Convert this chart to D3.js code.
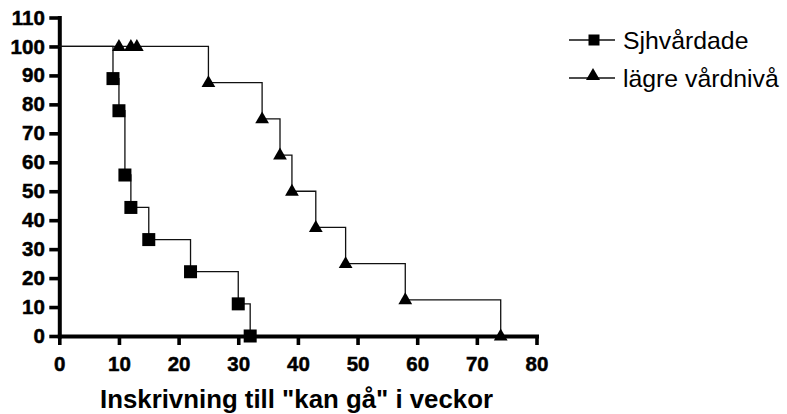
<!DOCTYPE html>
<html>
<head>
<meta charset="utf-8">
<script src="https://cdn.jsdelivr.net/npm/d3@7"></script>
<style>
  html, body { margin: 0; padding: 0; background: #fff; }
  svg { display: block; }
</style>
</head>
<body>
<script>
// ---- data ----
const xTicks = [0, 10, 20, 30, 40, 50, 60, 70, 80];
const yTicks = [0, 10, 20, 30, 40, 50, 60, 70, 80, 90, 100, 110];
const seriesNames = ["Sjhvårdade", "lägre vårdnivå"];
const sjTimes = [0, 9, 10, 11, 12, 15, 22, 30, 32];
const sjValues = [100, 88.9, 77.8, 55.6, 44.4, 33.3, 22.2, 11.1, 0];
const lvTimes = [0, 25, 34, 37, 39, 43, 48, 58, 74];
const lvValues = [100, 87.5, 75, 62.5, 50, 37.5, 25, 12.5, 0];
const lvCensoredTimes = [10, 12, 13];
const lvCensoredValues = [100, 100, 100];
const xTitle = 'Inskrivning till "kan gå" i veckor';

const W = 787, H = 414;
const FONT = '"Liberation Sans", Arial, Helvetica, sans-serif';
const svg = d3.select("body").append("svg").attr("width", W).attr("height", H);

const x = d3.scaleLinear().domain([0, 80]).range([59.3, 536.5]);
const y = d3.scaleLinear().domain([0, 110]).range([336, 17.5]);

// axes
const gx = svg.append("g").attr("transform", `translate(0,${y(0)})`)
  .call(d3.axisBottom(x).tickValues(xTicks).tickSize(9).tickSizeOuter(0).tickPadding(11));
const gy = svg.append("g").attr("transform", `translate(${x(0)},0)`)
  .call(d3.axisLeft(y).tickValues(yTicks).tickSize(10).tickSizeOuter(0).tickPadding(4.5));

[gx, gy].forEach(g => {
  g.attr("font-family", null).attr("font-size", null);
  g.select(".domain").attr("stroke", "#000").attr("stroke-width", 4).attr("stroke-linecap", "square");
  g.selectAll(".tick line").attr("stroke", "#000").attr("stroke-width", 3.6);
  g.selectAll(".tick text")
    .style("font-family", FONT).style("font-size", "20.5px").style("font-weight", "bold")
    .style("fill", "#000").style("stroke", "#000").style("stroke-width", "0.5px");
});

// data
const sj = sjTimes.map((t, i) => [t, sjValues[i]]);
const lv = lvTimes.map((t, i) => [t, lvValues[i]]);
const lvc = lvCensoredTimes.map((t, i) => [t, lvCensoredValues[i]]);

const line = d3.line().x(d => x(d[0])).y(d => y(d[1])).curve(d3.curveStepAfter);

svg.append("path").datum(sj).attr("d", line).attr("fill", "none")
  .attr("stroke", "#111").attr("stroke-width", 1.3);
svg.append("path").datum(lv).attr("d", line).attr("fill", "none")
  .attr("stroke", "#111").attr("stroke-width", 1.3);

const sq = 13;
svg.append("g").selectAll("rect").data(sj.slice(1)).join("rect")
  .attr("x", d => x(d[0]) - sq / 2).attr("y", d => y(d[1]) - sq / 2)
  .attr("width", sq).attr("height", sq).attr("fill", "#000");

const tri = d3.symbol().type(d3.symbolTriangle).size(82);
svg.append("g").selectAll("path").data(lv.slice(1).concat(lvc)).join("path")
  .attr("transform", d => `translate(${x(d[0])},${y(d[1]) + 0.5})`)
  .attr("d", tri).attr("fill", "#000");

// x axis title
svg.append("text").attr("x", 296.5).attr("y", 407.5)
  .attr("text-anchor", "middle")
  .style("font-family", FONT).style("font-size", "25.8px").style("font-weight", "bold")
  .text(xTitle);

// legend
const leg = svg.append("g");
const legY = [40, 78];
seriesNames.forEach((name, i) => {
  const g = leg.append("g").attr("transform", `translate(0,${legY[i]})`);
  g.append("line").attr("x1", 569).attr("x2", 615).attr("y1", 0).attr("y2", 0)
    .attr("stroke", "#111").attr("stroke-width", 1.3);
  if (i === 0) {
    g.append("rect").attr("x", 594 - 5.5).attr("y", -5.5).attr("width", 11).attr("height", 11).attr("fill", "#000");
  } else {
    g.append("path").attr("d", d3.symbol().type(d3.symbolTriangle).size(85)())
      .attr("transform", "translate(593,-2)").attr("fill", "#000");
  }
  g.append("text").attr("x", 623).attr("y", 0).attr("dy", "0.36em")
    .style("font-family", FONT).style("font-size", "24.8px")
    .text(name);
});
</script>
</body>
</html>
